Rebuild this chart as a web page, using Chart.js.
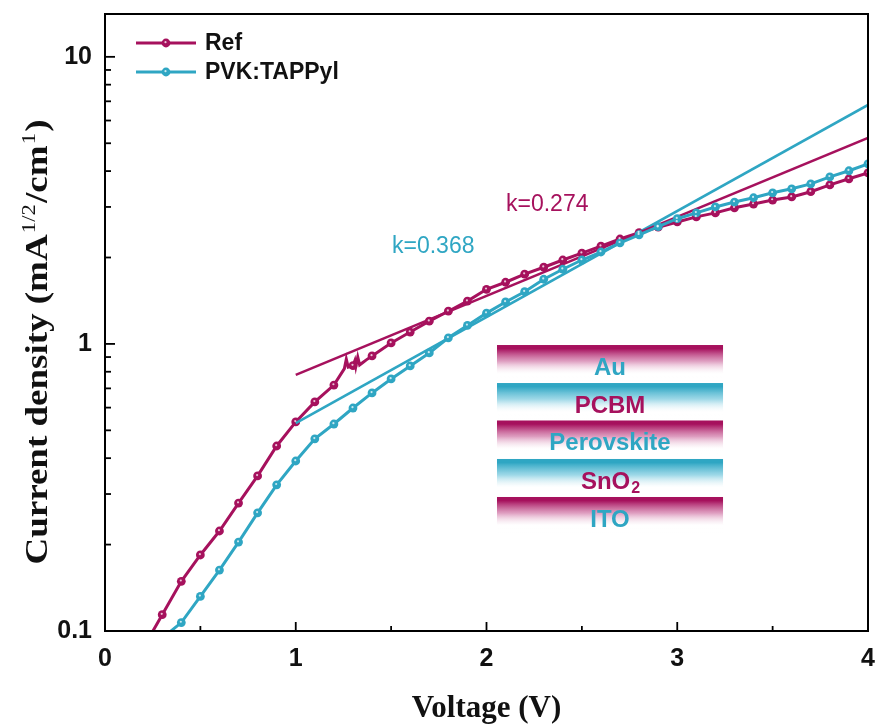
<!DOCTYPE html>
<html>
<head>
<meta charset="utf-8">
<script src="https://cdn.jsdelivr.net/npm/chart.js@4.4.1/dist/chart.umd.min.js"></script>
<style>
  html, body { margin: 0; padding: 0; background: #ffffff; }
  #wrap { width: 880px; height: 726px; }
</style>
</head>
<body>
<div id="wrap"><canvas id="c" width="880" height="726"></canvas></div>
<script>
// ---- data ----
const refV = [0.24, 0.3, 0.4, 0.5, 0.6, 0.7, 0.8, 0.9, 1.0, 1.1, 1.2, 1.255, 1.265, 1.275, 1.29, 1.3, 1.31, 1.315, 1.325, 1.335, 1.35, 1.37, 1.4, 1.5, 1.6, 1.7, 1.8, 1.9, 2.0, 2.1, 2.2, 2.3, 2.4, 2.5, 2.6, 2.7, 2.8, 2.9, 3.0, 3.1, 3.2, 3.3, 3.4, 3.5, 3.6, 3.7, 3.8, 3.9, 4.0];
const refJ = [0.097, 0.114, 0.149, 0.184, 0.223, 0.279, 0.347, 0.441, 0.535, 0.628, 0.719, 0.82, 0.885, 0.83, 0.835, 0.84, 0.875, 0.835, 0.9, 0.845, 0.86, 0.88, 0.908, 1.008, 1.10, 1.20, 1.30, 1.41, 1.55, 1.64, 1.75, 1.85, 1.96, 2.07, 2.19, 2.32, 2.44, 2.55, 2.66, 2.77, 2.86, 2.98, 3.07, 3.17, 3.25, 3.39, 3.58, 3.76, 3.94];
const pvkV = [0.33, 0.4, 0.5, 0.6, 0.7, 0.8, 0.9, 1.0, 1.1, 1.2, 1.3, 1.4, 1.5, 1.6, 1.7, 1.8, 1.9, 2.0, 2.1, 2.2, 2.3, 2.4, 2.5, 2.6, 2.7, 2.8, 2.9, 3.0, 3.1, 3.2, 3.3, 3.4, 3.5, 3.6, 3.7, 3.8, 3.9, 4.0];
const pvkJ = [0.098, 0.107, 0.132, 0.163, 0.204, 0.258, 0.323, 0.391, 0.467, 0.526, 0.598, 0.675, 0.755, 0.838, 0.93, 1.05, 1.16, 1.28, 1.40, 1.52, 1.68, 1.82, 1.96, 2.09, 2.25, 2.40, 2.56, 2.73, 2.86, 3.00, 3.12, 3.23, 3.36, 3.47, 3.61, 3.82, 4.01, 4.24];
const fitRefV = [1, 4];
const fitRefJ = [0.78, 5.22];
const fitPvkV = [1, 4];
const fitPvkJ = [0.53, 6.8];
const seriesNames = ['Ref', 'PVK:TAPPyl'];
const slopeLabels = ['k=0.274', 'k=0.368'];
const xTicks = [0, 1, 2, 3, 4];
const yTicks = [0.1, 1, 10];
const yTickLabels = ['0.1', '1', '10'];
const layerNames = ['Au', 'PCBM', 'Perovskite', 'SnO2', 'ITO'];
const xTitle = 'Voltage (V)';

const MAG = '#A6115D';
const CYA = '#2FA6C3';

function pts(xs, ys) { return xs.map((x, i) => ({ x: x, y: ys[i] })); }
function markR(ctx) {
  const v = ctx.raw ? ctx.raw.x : 0;
  return Math.abs(v * 10 - Math.round(v * 10)) < 1e-6 ? 4.4 : 0;
}

const decor = {
  id: 'decor',
  afterDatasetsDraw(chart) {
    const c = chart.ctx, a = chart.chartArea;
    const xs = chart.scales.x, ys = chart.scales.y;
    c.save();
    // bead highlights on markers
    [2, 3].forEach(di => {
      const meta = chart.getDatasetMeta(di);
      meta.data.forEach(el => {
        if (el.options && el.options.radius > 0) {
          c.beginPath(); c.arc(el.x - 0.5, el.y - 0.8, 1.1, 0, Math.PI * 2);
          c.fillStyle = 'rgba(255,255,255,0.75)'; c.fill();
        }
      });
    });
    // frame
    c.strokeStyle = '#000'; c.lineWidth = 2;
    c.strokeRect(a.left, a.top, a.right - a.left, a.bottom - a.top);
    // inward ticks bottom
    c.lineWidth = 1.8;
    for (let v = 0; v <= 4.0001; v += 0.5) {
      const px = xs.getPixelForValue(v);
      const major = Math.abs(v - Math.round(v)) < 1e-6;
      c.beginPath(); c.moveTo(px, a.bottom); c.lineTo(px, a.bottom - (major ? 9 : 5)); c.stroke();
    }
    // inward ticks left (log)
    for (let d = 0.1; d < 20; d *= 10) {
      for (let m = 1; m <= 9; m++) {
        const v = d * m;
        if (v < 0.0999 || v > ys.max) continue;
        const py = ys.getPixelForValue(v);
        c.beginPath(); c.moveTo(a.left, py); c.lineTo(a.left + (m === 1 ? 10 : 6), py); c.stroke();
      }
    }
    c.restore();
  },
  afterDraw(chart) {
    const c = chart.ctx, a = chart.chartArea;
    const xs = chart.scales.x;
    c.save();
    // legend
    const leg = [[seriesNames[0], MAG, 43], [seriesNames[1], CYA, 72]];
    leg.forEach(([t, col, y]) => {
      c.strokeStyle = col; c.lineWidth = 3;
      c.beginPath(); c.moveTo(136, y); c.lineTo(196, y); c.stroke();
      c.beginPath(); c.arc(166, y, 4.4, 0, Math.PI * 2);
      c.fillStyle = col; c.fill();
      c.beginPath(); c.arc(165.5, y - 0.8, 1.1, 0, Math.PI * 2);
      c.fillStyle = 'rgba(255,255,255,0.75)'; c.fill();
      c.fillStyle = '#111'; c.font = 'bold 23px "Liberation Sans", Arial, sans-serif';
      c.textAlign = 'left'; c.textBaseline = 'middle';
      c.fillText(t, 205, y + 1);
    });
    // slope labels
    c.font = '23px "Liberation Sans", Arial, sans-serif';
    c.textBaseline = 'middle'; c.textAlign = 'left';
    c.fillStyle = MAG; c.fillText(slopeLabels[0], 506, 205);
    c.fillStyle = CYA; c.fillText(slopeLabels[1], 392, 247);
    // device stack inset
    const x0 = xs.getPixelForValue(2.055), x1 = xs.getPixelForValue(3.24);
    const H = a.bottom - a.top;
    const tops = [0.5365, 0.5981, 0.6588, 0.7212, 0.7828].map(f => a.top + f * H);
    const bh = 36;
    const cols = [MAG, CYA, MAG, CYA, MAG];
    const txtCols = [CYA, MAG, CYA, MAG, CYA];
    tops.forEach((t, i) => {
      const g = c.createLinearGradient(0, t, 0, t + bh);
      const mag = cols[i] === MAG;
      g.addColorStop(0, cols[i]);
      g.addColorStop(0.1, cols[i]);
      g.addColorStop(0.45, mag ? 'rgba(196,80,142,0.55)' : 'rgba(80,185,212,0.55)');
      g.addColorStop(0.8, 'rgba(255,255,255,0.15)');
      g.addColorStop(1, 'rgba(255,255,255,0.0)');
      c.fillStyle = g;
      c.fillRect(x0, t, x1 - x0, bh);
      // label
      const cx = (x0 + x1) / 2, cy = t + 23;
      c.fillStyle = txtCols[i];
      c.font = 'bold 24px "Liberation Sans", Arial, sans-serif';
      c.textBaseline = 'middle';
      const name = layerNames[i];
      if (name === 'SnO2') {
        const main = 'SnO', sub = '2';
        const w1 = c.measureText(main).width;
        c.font = 'bold 16px "Liberation Sans", Arial, sans-serif';
        const w2 = c.measureText(sub).width;
        const sx = cx - (w1 + w2) / 2;
        c.textAlign = 'left';
        c.font = 'bold 24px "Liberation Sans", Arial, sans-serif';
        c.fillText(main, sx, cy);
        c.font = 'bold 16px "Liberation Sans", Arial, sans-serif';
        c.fillText(sub, sx + w1 + 1, cy + 7);
      } else {
        c.textAlign = 'center';
        c.fillText(name, cx, cy);
      }
    });
    // x title
    c.fillStyle = '#111';
    c.font = 'bold 31px "Liberation Serif", "Times New Roman", serif';
    c.textAlign = 'center'; c.textBaseline = 'alphabetic';
    c.fillText(xTitle, (a.left + a.right) / 2, 717);
    // y title with superscripts
    const segs = [['Current density (mA', false], ['1/2', true], ['/cm', false], ['1', true], [')', false]];
    const fMain = 'bold 31px "Liberation Serif", "Times New Roman", serif';
    const fSup = '19px "Liberation Serif", "Times New Roman", serif';
    let total = 0;
    segs.forEach(([t, s]) => { c.font = s ? fSup : fMain; total += c.measureText(t).width + (s ? 2 : 0); });
    const target = 445;
    c.translate(47, 342);
    c.rotate(-Math.PI / 2);
    c.scale(target / total, 1);
    let px = -total / 2;
    c.textAlign = 'left';
    segs.forEach(([t, s]) => {
      c.font = s ? fSup : fMain;
      c.fillText(t, px + (s ? 1 : 0), s ? -12 : 0);
      px += c.measureText(t).width + (s ? 2 : 0);
    });
    c.restore();
  }
};

const ctx = document.getElementById('c').getContext('2d');
new Chart(ctx, {
  type: 'line',
  data: {
    datasets: [
      { label: 'fitRef', data: pts(fitRefV, fitRefJ), borderColor: MAG, borderWidth: 2.6, pointRadius: 0, fill: false, order: 1 },
      { label: 'fitPvk', data: pts(fitPvkV, fitPvkJ), borderColor: CYA, borderWidth: 2.6, pointRadius: 0, fill: false, order: 1 },
      { label: seriesNames[0], data: pts(refV, refJ), borderColor: MAG, borderWidth: 3, pointRadius: markR,
        pointBackgroundColor: MAG, pointBorderColor: MAG, pointBorderWidth: 0, fill: false, order: 2 },
      { label: seriesNames[1], data: pts(pvkV, pvkJ), borderColor: CYA, borderWidth: 3, pointRadius: markR,
        pointBackgroundColor: CYA, pointBorderColor: CYA, pointBorderWidth: 0, fill: false, order: 0 }
    ]
  },
  options: {
    responsive: false,
    animation: false,
    layout: { padding: { top: 14, right: 12, left: 0, bottom: 0 } },
    plugins: { legend: { display: false }, tooltip: { enabled: false } },
    elements: { line: { tension: 0 } },
    scales: {
      x: {
        type: 'linear', min: 0, max: 4,
        grid: { display: false, drawTicks: false },
        border: { display: false },
        afterBuildTicks: s => { s.ticks = xTicks.map(v => ({ value: v })); },
        afterFit: s => { s.height = 95; s.paddingLeft = 0; s.paddingRight = 0; },
        ticks: { padding: 13, color: '#111', font: { family: '"Liberation Sans", Arial, sans-serif', size: 25, weight: 'bold' },
          callback: v => String(v), maxRotation: 0 }
      },
      y: {
        type: 'logarithmic', min: 0.1, max: 14.1,
        grid: { display: false, drawTicks: false },
        border: { display: false },
        afterBuildTicks: s => { s.ticks = yTicks.map(v => ({ value: v })); },
        afterFit: s => { s.width = 105; s.paddingTop = 0; s.paddingBottom = 0; },
        ticks: { padding: 13, color: '#111', font: { family: '"Liberation Sans", Arial, sans-serif', size: 25, weight: 'bold' },
          callback: (v) => { const i = yTicks.indexOf(v); return i >= 0 ? yTickLabels[i] : ''; } }
      }
    }
  },
  plugins: [decor]
});
</script>
</body>
</html>
